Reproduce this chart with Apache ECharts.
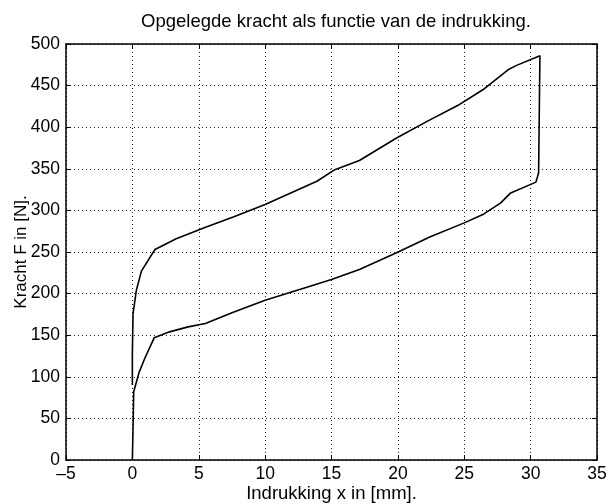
<!DOCTYPE html>
<html>
<head>
<meta charset="utf-8">
<script src="https://cdn.jsdelivr.net/npm/echarts@6/dist/echarts.min.js"></script>
<style>
  html, body { margin: 0; padding: 0; background: #fff; }
  #main { width: 606px; height: 504px; }
</style>
</head>
<body>
<div id="main"></div>
<script>
// belasten: van 0 tot de maximale indrukking
var loadX = [0, 0.05, 0.1, 0.5, 0.93, 1.65, 2.8, 4.2, 5.5, 7.5, 10, 12.6, 15, 17.1, 19.9, 22.4, 25, 26.4, 27.75, 28.5, 30.4, 30.6, 30.7];
var loadF = [0, 40, 82, 105, 122, 147, 154, 160, 164, 177, 192, 205, 217, 229, 249, 268, 285, 295, 309, 321, 334, 345, 486];
// ontlasten: terug naar x = 0
var unloadX = [30.6, 28.9, 28.3, 26.4, 24.5, 22.2, 19.9, 17.1, 15.25, 13.9, 10, 7.6, 5.56, 3.3, 1.7, 0.68, 0.3, 0.05, 0, 0];
var unloadF = [486, 474, 469, 445, 426, 407, 387, 360, 349, 335, 307, 292, 280, 266, 253, 227, 204, 176, 128, 90];

var xTicks = [-5, 0, 5, 10, 15, 20, 25, 30, 35];
var yTicks = [0, 50, 100, 150, 200, 250, 300, 350, 400, 450, 500];

var pts = [];
loadX.forEach(function (x, i) { pts.push([x, loadF[i]]); });
unloadX.forEach(function (x, i) { pts.push([x, unloadF[i]]); });

var font = 'Liberation Sans';
var chart = echarts.init(document.getElementById('main'));

// bovenste en rechter as: alleen de rand en de tickjes (box on)
var boxAxis = {
    type: 'value',
    axisLine: { show: true, onZero: false, lineStyle: { color: '#000', width: 1.5 } },
    axisTick: { show: true, inside: true, length: 5, lineStyle: { color: '#000' } },
    axisLabel: { show: false },
    splitLine: { show: false }
};
var gridLine = { show: true, lineStyle: { type: [1, 3], color: '#222', width: 1 } };

chart.setOption({
    animation: false,
    title: {
        text: 'Opgelegde kracht als functie van de indrukking.',
        left: 331, top: 7, textAlign: 'center',
        textStyle: { fontFamily: font, fontSize: 18.5, fontWeight: 'normal', color: '#000' }
    },
    grid: { left: 66, right: 9, top: 44, bottom: 44, containLabel: false, outerBoundsMode: 'none' },
    xAxis: [{
        type: 'value',
        min: xTicks[0], max: xTicks[xTicks.length - 1], interval: 5,
        name: 'Indrukking x in [mm].',
        nameLocation: 'middle', nameGap: 24, nameMoveOverlap: false,
        nameTextStyle: { fontFamily: font, fontSize: 18.5, color: '#000' },
        axisLine: { show: true, onZero: false, lineStyle: { color: '#000', width: 1.5 } },
        axisTick: { show: true, inside: true, length: 5, lineStyle: { color: '#000' } },
        axisLabel: { fontFamily: font, fontSize: 17.5, color: '#000', margin: 5,
            formatter: function (v) { return v < 0 ? '\u2013' + Math.abs(v) : v; } },
        splitLine: gridLine
    }, Object.assign({}, boxAxis, {
        position: 'top', min: -5, max: 35, interval: 5
    })],
    yAxis: [{
        type: 'value',
        min: yTicks[0], max: yTicks[yTicks.length - 1], interval: 50,
        name: 'Kracht F in [N].',
        nameLocation: 'middle', nameGap: 36, nameMoveOverlap: false,
        nameTextStyle: { fontFamily: font, fontSize: 17, color: '#000' },
        axisLine: { show: true, onZero: false, lineStyle: { color: '#000', width: 1.5 } },
        axisTick: { show: true, inside: true, length: 5, lineStyle: { color: '#000' } },
        axisLabel: { fontFamily: font, fontSize: 17.5, color: '#000', margin: 6 },
        splitLine: gridLine
    }, Object.assign({}, boxAxis, {
        position: 'right', min: 0, max: 500, interval: 50
    })],
    series: [{
        type: 'line',
        data: pts,
        showSymbol: false,
        lineStyle: { color: '#000', width: 1.6 }
    }]
});
</script>
</body>
</html>
